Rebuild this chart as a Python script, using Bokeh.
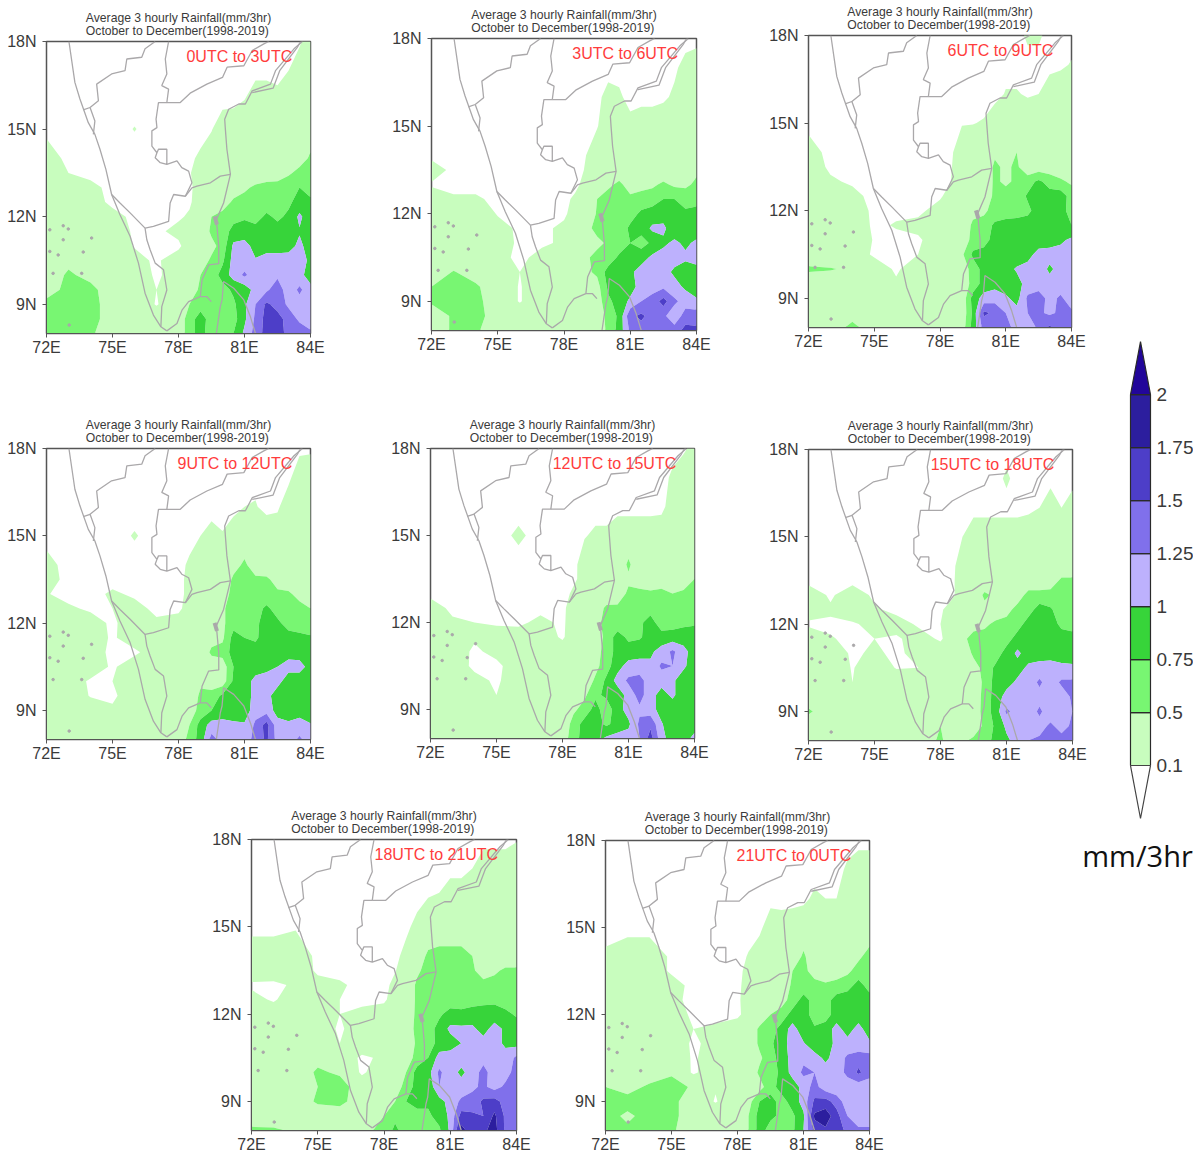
import numpy as np
from bokeh.embed import file_html
from bokeh.layouts import column, row
from bokeh.models import FixedTicker, Label, Range1d, Title
from bokeh.plotting import figure
from bokeh.resources import INLINE
from bokeh.core.properties import value

# Grid of the rainfall fields
LON = [72, 73, 74, 75, 76, 77, 78, 78.5, 79, 79.5, 80, 80.5, 81, 81.5, 82, 82.5, 83, 83.5, 84]
LAT = [18, 17, 16, 15, 14, 13.5, 13, 12.5, 12, 11.5, 11, 10.5, 10, 9.5, 9, 8.5, 8]

LEVELS = [0.1, 0.5, 0.75, 1, 1.25, 1.5, 1.75, 2, 10]
LEVEL_LABELS = ["0.1", "0.5", "0.75", "1", "1.25", "1.5", "1.75", "2"]
COLORS = ["#c8fdbe", "#78f672", "#37d43a", "#bdb1fd", "#8070eb", "#4d3ec8", "#2c1e9e", "#22069a"]

TITLE_1 = "Average 3 hourly Rainfall(mm/3hr)"
TITLE_2 = "October to December(1998-2019)"
UNIT = "mm/3hr"
PANEL_LABELS = ["0UTC to 3UTC", "3UTC to 6UTC", "6UTC to 9UTC", "9UTC to 12UTC",
                "12UTC to 15UTC", "15UTC to 18UTC", "18UTC to 21UTC", "21UTC to 0UTC"]

R_00_03 = [
    [0,0,0,0,0,0,0, 0,0,0,0,0,0,0,0,0,0,.05,.3],
    [0,0,0,0,0,0,0, 0,0,0,0,0,0,0,0,0,.1,.3,.3],
    [0,0,0,0,0,0,0, 0,0,0,0,.02,.1,.3,.3,.2,.3,.3,.3],
    [0,0,0,0,.11,0,0, 0,0,.08,.3,.3,.3,.3,.3,.3,.3,.3,.3],
    [.3,0,0,0,0,0,.05, .05,.15,.3,.3,.3,.3,.3,.3,.3,.3,.35,.55],
    [.3,.1,0,0,0,0,.02, .07,.3,.3,.3,.3,.3,.3,.3,.3,.45,.6,.65],
    [.3,.15,.2,0,0,0,0, .02,.3,.3,.3,.35,.45,.55,.62,.65,.7,.75,.65],
    [.3,.3,.3,0,0,0,0, .05,.3,.3,.35,.55,.6,.62,.62,.65,.7,.85,.8],
    [.3,.3,.3,.25,0,0,.05, .15,.3,.5,.6,.65,.72,.65,.8,.7,.8,1.05,.85],
    [.3,.3,.3,.3,.05,.03,.2, .25,.3,.55,.6,.85,.85,.85,.85,.85,.8,.98,.85],
    [.3,.3,.3,.3,.08,.02,.03, .3,.3,.42,.6,1.05,1.1,.9,.9,.9,.92,1.05,.9],
    [.3,.42,.45,.3,.2,.05,.3, .3,.35,.55,.7,1.1,1.1,1.02,1.1,1.1,1.1,1.1,.95],
    [.3,.55,.4,.3,.3,.05,.25, .3,.5,.6,.85,1.1,1.3,1.1,1.1,1.2,1.15,1.1,.85],
    [.35,.6,.6,.3,.3,.1,.3, .35,.55,.6,.65,.8,.85,1.1,1.2,1.4,1.1,1.3,1.1],
    [.6,.65,.65,.3,.3,.08,.3, .5,.65,.65,.6,.7,.95,1.25,1.55,1.4,1.2,1.15,1.1],
    [.6,.75,.65,.3,.3,.3,.3, .65,.85,.65,.55,.65,.95,1.3,1.6,1.6,1.4,1.2,1.1],
    [.55,.6,.55,.3,.3,.3,.3, .65,.85,.6,.6,.75,1.05,1.35,1.6,1.65,1.4,1.4,1.3],
]
R_03_06 = [
    [0,0,0,0,0,0,0, 0,0,0,0,0,0,0,0,0,0,0,0],
    [0,0,0,0,0,0,0, 0,0,0,0,0,0,.1,0,0,.05,.2,.3],
    [0,0,0,0,0,0,0, 0,0,.03,.2,.15,0,0,0,.05,.15,.3,.3],
    [0,0,0,0,0,0,0, 0,0,.08,.3,.3,.2,.3,.3,.3,.3,.3,.3],
    [0,0,0,0,0,0,0, 0,.1,.3,.3,.3,.3,.3,.3,.3,.3,.3,.5],
    [.3,0,0,0,0,0,0, .02,.12,.3,.3,.35,.3,.3,.3,.3,.3,.3,.45],
    [.06,0,0,0,0,0,0, .03,.2,.3,.45,.55,.4,.42,.45,.55,.45,.45,.55],
    [.3,.15,.15,.02,0,0,.03, .15,.3,.5,.6,.6,.55,.6,.65,.75,.75,.65,.7],
    [.3,.3,.3,.08,0,0,.02, .3,.35,.52,.6,.6,.65,.8,.85,.9,.85,.8,.8],
    [.3,.4,.3,.2,.05,0,.2, .3,.4,.6,.6,.6,.8,.85,1.05,1.05,.85,.85,.85],
    [.3,.3,.3,.3,.03,.05,.15, .3,.3,.42,.55,.6,.75,.65,.8,.95,1.05,.95,1.05],
    [.3,.3,.3,.2,.03,.2,.3, .3,.45,.6,.6,.8,.8,.9,1.05,1.1,1.1,1.05,1.1],
    [.3,.52,.35,.3,.1,.25,.3, .3,.45,.55,.85,.85,.95,1.1,1.15,1.1,.95,.85,.9],
    [.5,.6,.55,.3,.08,.3,.3, .3,.35,.4,.8,.95,.9,1.1,1.15,1.2,1.1,.95,.85],
    [.55,.75,.6,.3,.08,.3,.3, .3,.3,.35,.7,.85,1.05,1.25,1.35,1.6,1.3,1.15,1.05],
    [.3,.55,.65,.3,.3,.3,.3, .3,.3,.3,.6,.8,1.45,1.55,1.4,1.3,1.1,1.35,1.4],
    [.3,.55,.55,.3,.3,.3,.3, .3,.3,.35,.55,.85,1.3,1.4,1.35,1.3,1.35,1.6,1.55],
]
R_06_09 = [
    [0,0,0,0,0,0,0, 0,0,0,0,0,0,0,.15,.15,0,0,0],
    [0,0,0,0,0,0,0, 0,0,0,0,0,0,0,0,0,0,.05,.12],
    [0,0,0,0,0,0,0, 0,0,0,0,0,.12,.12,.07,.1,.3,.3,.3],
    [0,0,0,0,0,0,0, 0,.08,.09,.12,.3,.3,.3,.3,.3,.3,.3,.3],
    [.25,0,0,0,0,0,0, .05,.3,.3,.3,.45,.35,.5,.3,.3,.3,.3,.3],
    [.3,.04,0,0,0,0,0, .08,.3,.3,.3,.55,.45,.55,.3,.35,.35,.3,.3],
    [.3,.15,.05,0,0,0,0, .1,.3,.3,.3,.55,.45,.55,.65,.8,.65,.55,.45],
    [.3,.3,.2,0,0,0,.05, .25,.3,.3,.35,.55,.6,.62,.78,.85,.85,.88,.65],
    [.3,.3,.3,.03,.05,.02,.25, .3,.3,.42,.45,.6,.62,.65,.7,.85,.85,.85,.65],
    [.3,.3,.3,.05,.12,.2,.3, .3,.3,.55,.6,.8,.85,.85,.85,.85,.8,.8,.75],
    [.3,.3,.3,.08,.04,.05,.3, .3,.3,.6,.65,.85,.88,.9,.85,.85,.88,.95,1.05],
    [.3,.3,.3,.05,.02,.1,.3, .3,.45,.8,.85,.88,.9,.85,.9,1.1,1.1,1.1,1.05],
    [.55,.52,.45,.3,.05,.3,.3, .3,.35,.6,.85,.95,.9,1.03,1.1,1.15,.95,1.1,1.1],
    [.3,.3,.3,.3,.15,.3,.3, .3,.3,.6,.85,.9,.85,.9,1.1,1.1,1.1,1.1,1.1],
    [.3,.3,.3,.3,.25,.3,.3, .3,.3,.85,1.1,1.15,1.05,.9,1.3,1.4,1.15,1.3,1.1],
    [.3,.3,.35,.3,.3,.3,.3, .3,.3,.8,1.55,1.45,1.25,1.1,1.25,1.3,1.2,1.3,1.3],
    [.3,.3,.6,.3,.3,.3,.3, .3,.35,.85,1.35,1.35,1.35,1.15,1.1,1.3,1.55,1.35,1.35],
]
R_09_12 = [
    [0,0,0,0,0,0,0, 0,0,0,0,0,0,0,0,0,0,.03,.05],
    [0,0,0,0,0,0,0, 0,0,0,0,0,0,.03,0,0,.03,.3,.3],
    [0,0,0,0,0,0,0, 0,0,0,0,0,.1,.12,.02,.05,.3,.3,.3],
    [0,0,0,0,.12,0,0, 0,.1,.2,.12,.3,.3,.3,.3,.3,.3,.3,.3],
    [.2,0,0,0,0,0,.01, .15,.3,.3,.3,.4,.55,.35,.3,.3,.3,.3,.3],
    [.25,0,0,0,0,0,0, .2,.3,.3,.3,.55,.6,.55,.55,.4,.3,.3,.3],
    [.12,0,0,.15,.05,0,0, .2,.3,.3,.35,.6,.6,.6,.6,.55,.55,.4,.3],
    [.3,.15,.05,.1,.2,.03,.03, .25,.3,.3,.45,.65,.62,.65,.8,.65,.6,.6,.5],
    [.3,.3,.25,.04,.3,.15,.25, .3,.3,.35,.45,.65,.6,.7,.85,.8,.65,.65,.6],
    [.3,.3,.3,.05,.3,.2,.3, .3,.3,.4,.45,.85,.75,.7,.9,.9,.85,.8,.78],
    [.3,.3,.25,.03,.03,.3,.3, .3,.3,.55,.6,.85,1.0,.88,.9,.95,.9,.88,.85],
    [.3,.3,.3,.05,.3,.3,.3, .3,.3,.35,.35,.75,.85,.85,.85,1.0,1.1,1.1,.9],
    [.3,.3,.05,.1,.3,.3,.3, .3,.45,.35,.35,.8,.85,1.1,1.25,1.1,.85,.85,.85],
    [.3,.3,.08,.04,.3,.42,.3, .3,.55,.6,.8,.8,.85,1.1,1.1,.85,.85,.85,.85],
    [.3,.3,.3,.15,.3,.3,.3, .35,.6,.75,.85,.85,.85,1.15,1.15,.9,.85,.9,.85],
    [.45,.3,.3,.3,.3,.3,.3, .5,.85,1.1,1.1,1.05,1.03,1.3,1.6,1.1,1.05,1.1,1.02],
    [.3,.45,.3,.3,.3,.3,.3, .6,.85,1.35,1.15,1.1,1.1,1.35,1.55,1.15,1.1,1.3,1.1],
]
R_12_15 = [
    [0,0,0,0,0,0,0, 0,0,0,0,0,0,0,0,0,0,.05,.2],
    [0,0,0,0,0,0,0, 0,0,0,0,0,.07,.06,0,0,.15,.3,.3],
    [0,0,0,0,0,0,0, 0,0,0,0,0,0,0,0,.02,.25,.3,.3],
    [0,0,0,0,.15,0,0, 0,.08,.15,.15,.3,.3,.3,.3,.3,.3,.3,.3],
    [0,0,0,0,0,0,0, .02,.25,.3,.3,.3,.55,.3,.3,.3,.3,.3,.3],
    [0,0,0,0,0,0,0, .05,.2,.3,.3,.3,.45,.3,.3,.3,.3,.35,.5],
    [.02,0,0,0,0,0,0, .15,.3,.3,.3,.35,.55,.6,.55,.6,.5,.55,.65],
    [.25,.03,0,0,0,0,.01, .3,.3,.35,.55,.55,.65,.65,.65,.65,.6,.6,.6],
    [.3,.15,.1,.07,.02,.2,.03, .3,.3,.4,.6,.6,.65,.7,.85,.62,.65,.7,.72],
    [.3,.3,.15,.2,.3,.3,.05, .3,.3,.3,.6,.85,.7,.72,.85,.85,.85,.85,.85],
    [.3,.3,.04,.2,.25,.3,.3, .3,.3,.4,.6,.85,.85,.9,.95,1.1,1.3,1.1,.85],
    [.3,.3,.03,.02,.3,.3,.3, .3,.3,.42,.65,.9,1.1,1.1,1.05,1.3,1.25,1.05,.85],
    [.3,.3,.2,.05,.3,.3,.3, .1,.3,.55,.8,1.1,1.3,1.35,1.1,1.1,1.05,.85,.85],
    [.3,.3,.3,.1,.3,.3,.3, .3,.45,.7,.8,.85,1.1,1.35,1.1,.9,1.05,.85,.95],
    [.3,.3,.3,.3,.3,.3,.3, .45,.6,.85,.6,.9,1.1,1.2,1.1,.9,.85,.85,.85],
    [.3,.3,.3,.3,.3,.3,.3, .6,.85,.85,.7,.85,.95,1.3,1.45,1.02,.85,.85,.85],
    [.3,.3,.3,.3,.3,.3,.35, .65,.85,.9,1.05,1.1,1.1,1.25,1.6,1.1,.85,.85,1.1],
]
R_15_18 = [
    [0,0,0,0,0,0,0, 0,0,0,0,0,0,0,0,0,0,0,0],
    [0,0,0,0,0,0,0, 0,0,0,0,0,.15,0,0,0,0,0,0],
    [0,0,0,0,0,0,0, 0,0,0,0,0,0,0,.04,.1,.3,.1,.25],
    [0,0,0,0,0,0,0, 0,.1,.3,.3,.3,.3,.3,.3,.3,.3,.3,.3],
    [0,0,0,0,0,0,0, .02,.25,.3,.3,.3,.3,.3,.3,.3,.3,.3,.3],
    [0,0,0,0,0,0,0, .02,.3,.3,.3,.3,.3,.3,.3,.3,.35,.55,.55],
    [.3,.05,.3,.03,0,0,0, .02,.3,.3,.55,.45,.4,.35,.6,.6,.6,.65,.6],
    [.25,.15,.3,.15,0,0,.05, .25,.3,.3,.42,.35,.4,.6,.65,.85,.78,.62,.6],
    [.05,.05,.06,.2,.25,.05,.1, .25,.3,.35,.45,.55,.6,.65,.85,.85,.85,.7,.65],
    [.3,.12,.04,.1,.05,.25,.05, .3,.4,.65,.6,.6,.65,.85,.85,.85,.85,.85,.85],
    [.3,.3,.05,.15,.04,.2,.3, .3,.3,.55,.55,.62,.85,1.05,.88,.88,.9,.9,.85],
    [.3,.3,.08,.3,.08,.1,.3, .3,.3,.4,.58,.8,.88,.9,1.05,1.1,1.1,1.05,1.05],
    [.3,.3,.1,.3,.3,.25,.3, .3,.3,.35,.55,.85,.9,1.05,1.1,1.3,1.1,1.3,1.3],
    [.3,.3,.3,.3,.3,.3,.3, .3,.4,.3,.6,.85,1.1,1.1,1.1,1.15,1.1,1.1,1.3],
    [.55,.3,.3,.3,.3,.3,.3, .3,.3,.3,.62,.85,1.3,1.15,1.1,1.3,1.1,1.1,1.25],
    [.3,.3,.3,.3,.3,.3,.5, .3,.3,.35,.55,.8,1.05,1.1,1.1,1.15,1.3,1.15,1.3],
    [.3,.3,.3,.3,.3,.3,.55, .35,.45,.55,.6,.85,.95,1.1,1.25,1.3,1.35,1.35,1.35],
]
R_18_21 = [
    [0,0,0,0,0,0,0, 0,0,0,0,0,0,0,0,0,0,0,.08],
    [0,0,0,0,0,0,0, 0,0,0,0,0,0,0,.1,.3,.3,.3,.3],
    [0,0,0,0,0,0,0, 0,0,0,.1,.12,.3,.3,.3,.3,.3,.3,.3],
    [0,0,.07,0,0,0,0, 0,.03,.2,.3,.3,.3,.3,.3,.3,.3,.3,.3],
    [.3,.3,.3,.03,0,0,0, .02,.2,.35,.55,.6,.6,.6,.5,.3,.3,.3,.3],
    [.3,.3,.3,.05,0,0,.01, .08,.3,.45,.6,.6,.62,.6,.55,.35,.45,.55,.55],
    [.05,.03,.15,.2,.15,0,0, .2,.3,.55,.65,.6,.6,.62,.62,.6,.6,.62,.65],
    [.2,.06,.3,.3,.1,0,.03, .3,.3,.55,.65,.6,.6,.65,.65,.65,.7,.65,.6],
    [.3,.3,.3,.3,.1,.2,.3, .3,.35,.55,.6,.7,.85,.8,.85,.9,.85,.8,.72],
    [.3,.3,.3,.3,.05,.3,.3, .3,.4,.55,.62,.85,1.05,1.05,1.05,.9,1.1,.95,.85],
    [.3,.3,.3,.3,.1,.3,.3, .3,.3,.55,.6,.85,.9,1.0,1.1,1.1,1.1,.95,.9],
    [.3,.3,.3,.4,.3,.05,.15, .3,.35,.6,.75,1.1,1.1,1.1,1.2,1.15,1.15,1.1,1.3],
    [.3,.3,.3,.55,.45,.05,.3, .35,.5,.85,.9,1.3,1.1,.95,1.1,1.35,1.1,1.15,1.35],
    [.45,.3,.3,.5,.65,.3,.3, .35,.6,.85,.8,1.25,1.1,1.1,1.2,1.3,1.15,1.3,1.4],
    [.3,.3,.3,.55,.6,.3,.3, .5,.75,.85,.8,.9,1.1,1.3,1.35,1.55,1.6,1.4,1.4],
    [.35,.3,.3,.3,.3,.3,.5, .7,.65,.65,.7,.85,1.05,1.6,1.55,1.5,1.8,1.45,1.4],
    [.55,.55,.45,.5,.45,.4,.6, .8,.65,.55,.6,.7,1.05,1.85,1.6,1.7,1.85,1.45,1.4],
]
R_21_00 = [
    [0,0,0,0,0,0,0, 0,0,0,0,0,0,0,0,0,0,0,0],
    [0,0,0,0,0,0,0, 0,0,0,0,.1,0,0,0,0,.15,.3,.3],
    [0,0,0,0,0,0,0, 0,0,0,0,0,.04,.15,.1,.1,.3,.3,.3],
    [0,0,0,0,0,0,0, 0,.02,.3,.25,.3,.3,.3,.3,.3,.3,.3,.3],
    [.15,.3,.3,.05,0,0,.01, .12,.3,.3,.3,.3,.55,.3,.3,.4,.3,.45,.6],
    [.3,.3,.3,.05,0,0,.01, .2,.3,.3,.3,.5,.6,.35,.3,.35,.45,.6,.65],
    [.3,.3,.3,.25,0,0,.02, .25,.3,.3,.3,.55,.6,.62,.55,.6,.65,.85,.65],
    [.3,.3,.3,.2,0,0,.03, .3,.3,.3,.4,.6,.85,.65,.65,.85,.9,.85,.85],
    [.3,.3,.3,.3,.03,.02,.03, .25,.3,.5,.6,.85,.85,.65,.65,.85,.85,.85,.85],
    [.3,.3,.3,.2,.1,.15,.3, .3,.55,.62,.85,1.1,.85,.78,.85,1.1,.88,1.1,.85],
    [.3,.3,.3,.3,.05,.2,.3, .3,.55,.7,.9,1.1,1.02,.85,.9,1.05,1.1,1.05,1.05],
    [.3,.3,.3,.4,.05,.3,.15, .3,.45,.65,.85,1.1,1.2,1.1,.95,1.1,1.3,1.4,1.35],
    [.3,.3,.35,.45,.05,.3,.3, .3,.55,.65,.8,1.1,1.3,1.25,1.1,1.15,1.3,1.55,1.35],
    [.5,.4,.55,.65,.45,.12,.3, .3,.4,.65,.85,.85,1.1,1.35,1.1,1.05,1.15,1.1,1.1],
    [.6,.6,.52,.6,.3,.08,.3, .4,.75,.85,.65,.85,1.1,1.55,1.6,1.4,1.1,1.05,1.1],
    [.6,.45,.6,.6,.3,.3,.3, .5,.85,.8,.7,.7,.95,1.8,1.9,1.6,1.25,1.1,1.1],
    [.55,.55,.7,.55,.3,.3,.3, .5,.85,.65,.6,.7,1.0,1.6,1.7,1.6,1.45,1.3,1.3],
]
RAIN = [R_00_03, R_03_06, R_06_09, R_09_12, R_12_15, R_15_18, R_18_21, R_21_00]

# Coast and state borders, longitude then latitude
WEST_LON = [73.02, 73.29, 73.52, 73.9, 74.2, 74.43, 74.7, 74.96, 75.34, 75.8, 76.18, 76.48, 76.86, 77.2, 77.47]
WEST_LAT = [18, 16.6, 16.03, 15.22, 14.82, 14.31, 13.62, 12.76, 12.07, 11.33, 10.41, 9.38, 8.63, 8.23, 8.09]
EAST_LON = [77.47, 77.93, 78.16, 78.46, 78.99, 79.29, 79.49, 79.29, 78.99, 79.07, 79.37, 79.83, 79.83, 79.72, 80.05, 80.36, 80.2, 80.13, 80.1, 80.28, 80.74, 81.04, 81.35, 82.18, 82.41, 83.25, 83.63]
EAST_LAT = [8.09, 8.34, 8.8, 9.09, 9.26, 9.26, 9.09, 9.26, 9.26, 9.83, 10.35, 10.39, 10.98, 11.9, 12.47, 13.45, 14.31, 15.0, 15.34, 15.68, 15.86, 15.86, 16.31, 16.54, 17.0, 17.75, 18]
EAST2_LON = [81.35, 82.3, 82.6, 83.4, 83.55]
EAST2_LAT = [16.25, 16.4, 17.0, 17.8, 18]
LANKA_LON = [79.72, 79.9, 79.98, 80.05, 80.51, 80.97, 81.27, 81.5]
LANKA_LAT = [8, 8.92, 9.15, 9.78, 9.55, 9.15, 8.57, 8]
GOA_LON = [73.67, 73.98, 74.2, 74.13]
GOA_LAT = [15.66, 15.74, 15.28, 14.82]
KAR_N_LON = [73.98, 74.36, 74.28, 74.96, 75.57, 75.65, 76.33, 76.48, 76.94]
KAR_N_LAT = [15.74, 15.97, 16.54, 16.89, 17.0, 17.4, 17.46, 17.75, 18]
KAR_E_LON = [77.55, 77.4, 77.47, 77.24, 77.55, 77.47, 77.09, 76.98, 77.02, 76.79, 76.79, 77.02, 77.09, 77.47, 77.47, 77.17, 76.94, 77.02, 76.94, 77.17, 77.47, 77.93, 78.15, 78.46, 78.61, 78.31, 77.78, 77.62, 77.55, 76.86, 76.48, 75.8, 75.34, 74.96]
KAR_E_LAT = [18, 17.4, 16.89, 16.49, 16.37, 15.91, 15.91, 15.34, 15.05, 14.94, 14.42, 14.19, 14.31, 14.31, 13.79, 13.85, 14.02, 14.19, 14.02, 13.85, 13.79, 13.91, 13.68, 13.56, 13.16, 12.7, 12.76, 12.47, 11.84, 11.67, 11.61, 12.13, 12.47, 12.76]
TEL_LON = [77.47, 78.08, 78.53, 79.29, 80.0, 80.21, 80.97, 81.35, 81.88, 82.1]
TEL_LAT = [15.91, 15.91, 16.23, 16.54, 16.77, 17.12, 17.17, 17.69, 17.92, 18]
TN_LON = [78.31, 78.61, 78.84, 79.45, 79.9, 80.36]
TN_LAT = [12.7, 12.99, 13.05, 13.16, 13.39, 13.45]
KER_LON = [76.48, 76.56, 76.71, 76.94, 77.32, 77.47, 77.24, 77.2]
KER_LAT = [11.61, 11.21, 10.87, 10.41, 10.18, 9.49, 8.92, 8.23]
BORDERS = [(WEST_LON, WEST_LAT), (EAST_LON, EAST_LAT), (EAST2_LON, EAST2_LAT), (LANKA_LON, LANKA_LAT),
           (GOA_LON, GOA_LAT), (KAR_N_LON, KAR_N_LAT), (KAR_E_LON, KAR_E_LAT), (TEL_LON, TEL_LAT),
           (TN_LON, TN_LAT), (KER_LON, KER_LAT)]
BLOB_LON = [79.64, 79.75]
BLOB_LAT = [12.01, 11.73]
ISLE_LON = [72.15, 72.76, 72.99, 74.05, 72.76, 72.15, 72.3, 72.53, 73.6, 73.67, 73.03]
ISLE_LAT = [11.55, 11.69, 11.58, 11.27, 11.21, 10.81, 10.06, 10.69, 10.06, 10.79, 8.29]

X_TICKS = [72, 75, 78, 81, 84]
Y_TICKS = [9, 12, 15, 18]

FONT = "Liberation Sans"
GRAY = "#aaa8aa"
INK = "#3a3a3a"
LEFT_B, TOP_B, RIGHT_B, BOTTOM_B = 42, 32, 20, 25


def panel(i, fw, fh, mt, ml):
    p = figure(output_backend="svg", toolbar_location=None, frame_width=fw, frame_height=fh,
               min_border_left=LEFT_B, min_border_top=TOP_B, min_border_right=RIGHT_B, min_border_bottom=BOTTOM_B,
               x_range=Range1d(72, 84), y_range=Range1d(8, 18), margin=(mt, 0, 0, ml),
               outline_line_color="#555555", outline_line_width=1.5, tools="")
    p.grid.visible = False
    p.background_fill_color = "white"
    z = np.array(RAIN[i], dtype=float)[::-1]
    p.contour(np.array(LON), np.array(LAT[::-1]), z, levels=LEVELS, fill_color=COLORS, line_color=None)
    for xs, ys in BORDERS:
        p.line(xs, ys, line_color=GRAY, line_width=1.3)
    p.line(BLOB_LON, BLOB_LAT, line_color=GRAY, line_width=4)
    p.scatter(ISLE_LON, ISLE_LAT, size=2.5, color=GRAY)
    p.xaxis.ticker = FixedTicker(ticks=X_TICKS)
    p.yaxis.ticker = FixedTicker(ticks=Y_TICKS)
    p.xaxis.major_label_overrides = {t: f"{t}E" for t in X_TICKS}
    p.yaxis.major_label_overrides = {t: f"{t}N" for t in Y_TICKS}
    for ax in (p.xaxis[0], p.yaxis[0]):
        ax.major_tick_in = 0
        ax.major_tick_out = 4
        ax.minor_tick_line_color = None
        ax.axis_line_color = "#555555"
        ax.major_tick_line_color = "#555555"
        ax.major_label_text_font = FONT
        ax.major_label_text_font_size = "16px"
        ax.major_label_text_color = INK
    p.xaxis[0].major_label_standoff = 1
    p.yaxis[0].major_label_standoff = 6
    p.add_layout(Title(text=TITLE_1 + "\n" + TITLE_2, align="center", standoff=6, text_font=FONT,
                       text_font_size="12.2px", text_font_style="normal", text_color=INK,
                       text_line_height=0.95), "above")
    p.add_layout(Label(x=83.17, y=17.48, text=PANEL_LABELS[i], text_align="right", text_baseline="middle",
                       text_font=FONT, text_font_size="16px", text_color="#ff3c3c"))
    return p


def key():
    p = figure(output_backend="svg", toolbar_location=None, width=121, height=550,
               x_range=Range1d(-2.9, 3.15), y_range=Range1d(-2.17, 8.21), margin=(330, 0, 0, -20),
               min_border=0, outline_line_color=None, tools="", border_fill_color=None, background_fill_color=None)
    p.grid.visible = False
    p.axis.visible = False
    n = len(LEVEL_LABELS)
    idx = np.arange(n)
    p.quad(left=0, right=1, bottom=idx[:-1], top=idx[1:], fill_color=COLORS[:n - 1], line_color="#2a2a2a", line_width=1.2)
    p.patch([0, 0.5, 1], [n - 1, n, n - 1], fill_color=COLORS[-1], line_color="#2a2a2a", line_width=1.2)
    p.patch([0, 0.5, 1], [0, -1, 0], fill_color="white", line_color="#444444", line_width=1.2)
    p.text(x=[1.3] * n, y=idx, text=LEVEL_LABELS, text_align="left", text_baseline="middle",
           text_font=value(FONT), text_font_size="19px", text_color=INK)
    p.text(x=[0.35], y=[-1.7], text=[UNIT], text_align="center", text_baseline="middle",
           text_font=value("Open Sans"), text_font_size="29px", text_color="#111111")
    return p


r1 = row(panel(0, 264, 292, 6, 46 - LEFT_B), panel(1, 265, 292, 3, 431 - LEFT_B - (46 + 264 + RIGHT_B)),
         panel(2, 263, 292, 0, 808 - LEFT_B - (431 + 265 + RIGHT_B)))
r2 = row(panel(3, 264, 291, 55, 46 - LEFT_B), panel(4, 264, 290, 55, 430 - LEFT_B - (46 + 264 + RIGHT_B)),
         panel(5, 264, 291, 56, 808 - LEFT_B - (430 + 264 + RIGHT_B)))
r3 = row(panel(6, 265, 291, 39, 251 - LEFT_B), panel(7, 264, 290, 40, 605 - LEFT_B - (251 + 265 + RIGHT_B)))
page = row(column(r1, r2, r3), key())

open("out.html", "w").write(file_html(page, INLINE))
